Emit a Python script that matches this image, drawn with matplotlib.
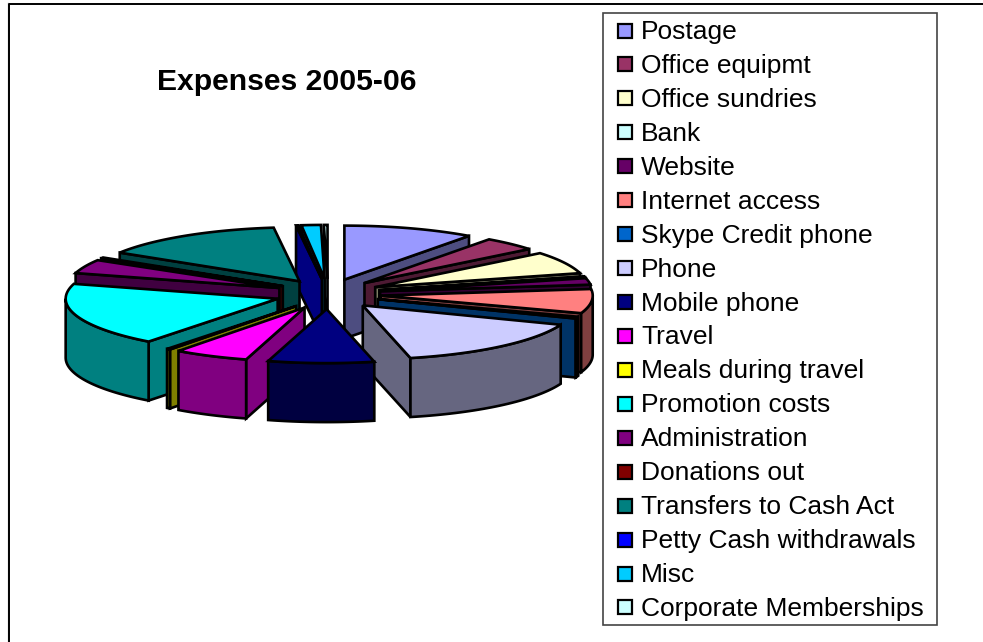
"""Exploded 3D pie of expenses, drawn as projected polygons."""
import matplotlib
matplotlib.use("Agg")
import matplotlib.pyplot as plt
import numpy as np
from matplotlib.colors import to_rgb
from matplotlib.patches import Polygon, Rectangle

TITLE = "Expenses 2005-06"

CATEGORIES = [
    "Postage", "Office equipmt", "Office sundries", "Bank", "Website",
    "Internet access", "Skype Credit phone", "Phone", "Mobile phone", "Travel",
    "Meals during travel", "Promotion costs", "Administration", "Donations out",
    "Transfers to Cash Act", "Petty Cash withdrawals", "Misc", "Corporate Memberships",
]
# as shares of 360
VALUES = [36, 15, 24, 1, 7, 26, 2, 56, 29, 20.5, 1, 68.5, 15, 1, 51, 0.7, 5.3, 1]
COLORS = [
    "#9999FF", "#993366", "#FFFFCC", "#CCFFFF", "#660066", "#FF8080",
    "#0066CC", "#CCCCFF", "#000080", "#FF00FF", "#FFFF00", "#00FFFF",
    "#800080", "#800000", "#008080", "#0000FF", "#00CCFF", "#CCFFFF",
]

# pie geometry in pixels
CX, CY = 328, 294
RX, RY = 212, 54
DEPTH = 59
EXPLODE = 0.25
LW = 1.9
FONT = ["Liberation Sans", "DejaVu Sans"]


def rim(theta, cx, cy, drop=0):
    """Points on the ellipse, theta in degrees clockwise from the top."""
    t = np.radians(theta)
    return np.column_stack([cx + RX * np.sin(t), cy - RY * np.cos(t) + drop])


def shade(color):
    return tuple(c * 0.5 for c in to_rgb(color))


def poly(ax, pts, color):
    ax.add_patch(Polygon(pts, closed=True, facecolor=color, edgecolor="black",
                         linewidth=LW, joinstyle="miter"))


def radial_face(ax, cx, cy, theta, color):
    edge = rim(np.array([theta]), cx, cy)[0]
    poly(ax, [(cx, cy), edge, (edge[0], edge[1] + DEPTH), (cx, cy + DEPTH)], color)


def draw_slice(ax, start, end, color):
    mid = np.radians((start + end) / 2)
    cx = CX + EXPLODE * RX * np.sin(mid)
    cy = CY - 0.28 * RY * np.cos(mid)
    side = shade(color)

    # only faces turned toward the viewer get drawn
    if np.sin(np.radians(start)) < 0:
        radial_face(ax, cx, cy, start, side)
    if np.sin(np.radians(end)) > 0:
        radial_face(ax, cx, cy, end, side)

    lo, hi = max(start, 90), min(end, 270)
    if lo < hi:
        arc = np.linspace(lo, hi, 40)
        poly(ax, np.vstack([rim(arc, cx, cy), rim(arc[::-1], cx, cy, DEPTH)]), side)

    arc = np.linspace(start, end, 40)
    poly(ax, np.vstack([[(cx, cy)], rim(arc, cx, cy)]), color)


def draw_pie(ax):
    edges = np.concatenate([[0], np.cumsum(VALUES)]) * 360 / sum(VALUES)
    slices = list(zip(edges[:-1], edges[1:], COLORS))
    # painter's order, back slices first
    slices.sort(key=lambda s: -np.cos(np.radians((s[0] + s[1]) / 2)))
    for start, end, color in slices:
        draw_slice(ax, start, end, color)


def draw_legend(ax):
    ax.add_patch(Rectangle((603, 13), 334, 612, facecolor="white",
                           edgecolor="#444444", linewidth=1.2))
    for i, (name, color) in enumerate(zip(CATEGORIES, COLORS)):
        y = 30.5 + i * 33.94
        ax.add_patch(Rectangle((617.5, y - 7), 14, 14, facecolor=color,
                               edgecolor="black", linewidth=1.6))
        ax.text(641, y + 1.5, name, fontsize=19, family=FONT, va="center", ha="left")


def main():
    fig = plt.figure(figsize=(9.83, 6.42), dpi=100)
    ax = fig.add_axes([0, 0, 1, 1])
    ax.set_xlim(0, 983)
    ax.set_ylim(642, 0)
    ax.axis("off")

    # chart frame, runs off the right and bottom of the image
    ax.plot([7.5, 7.5], [642, 3], color="#bbbbbb", linewidth=1)
    ax.plot([9, 9, 983], [642, 3.5, 3.5], color="black", linewidth=1.4)

    ax.text(286.5, 82, TITLE, fontsize=21.7, fontweight="bold", family=FONT,
            ha="center", va="center")
    draw_pie(ax)
    draw_legend(ax)
    fig.savefig("out.png", dpi=100)


if __name__ == "__main__":
    main()
